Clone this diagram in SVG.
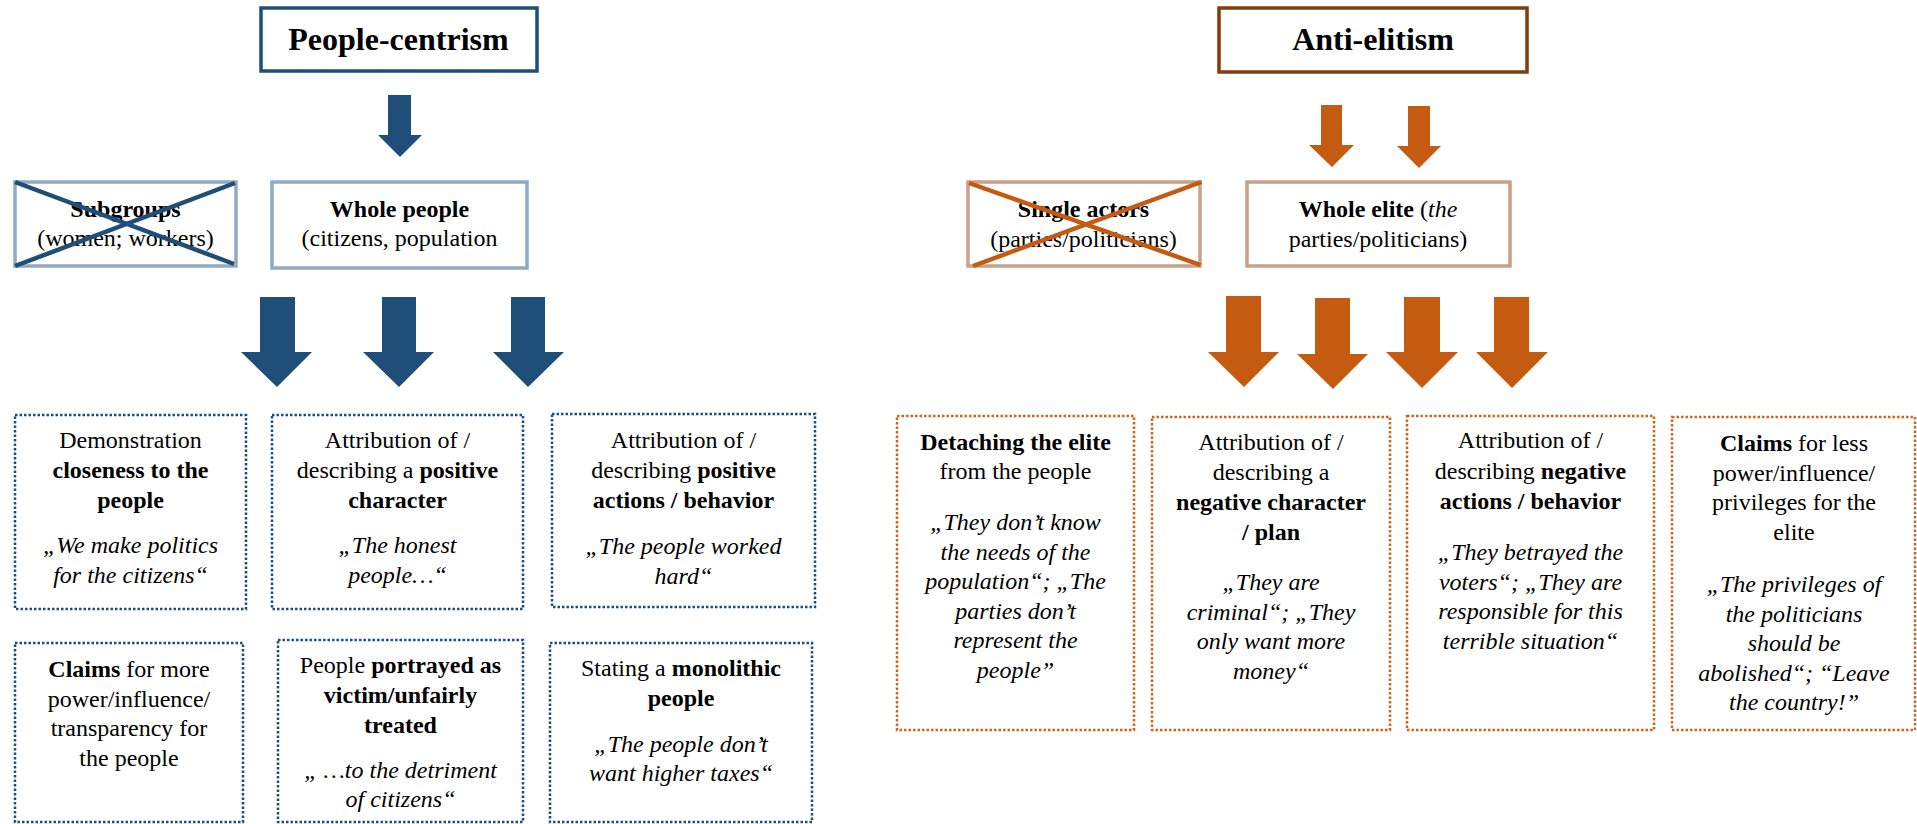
<svg xmlns="http://www.w3.org/2000/svg" width="1917" height="824" viewBox="0 0 1917 824" font-family="'Liberation Serif', 'DejaVu Serif', 'Times New Roman', serif">
<style>
text{font-family:'Liberation Serif','DejaVu Serif','Times New Roman',serif;font-size:24px;fill:#000;text-anchor:middle}
.h{font-size:32px;font-weight:bold}
.b{font-weight:bold}
.i{font-style:italic}
.bluehead{fill:#fff;stroke:#1f4e79;stroke-width:3.5}
.orhead{fill:#fff;stroke:#843c0c;stroke-width:3.5}
.bluelite{fill:#fff;stroke:#8faac2;stroke-width:3.5}
.orlite{fill:#fff;stroke:#c9a088;stroke-width:3.5}
.bluedot{fill:#fff;stroke:#1f4e79;stroke-width:2.5;stroke-dasharray:2.5 2}
.ordot{fill:#fff;stroke:#d0651a;stroke-width:2.5;stroke-dasharray:2.5 2}
.xb{stroke:#1f4e79;stroke-width:4.5}
.xo{stroke:#c55a11;stroke-width:4.5}
.ab{fill:#1f4e79}
.ao{fill:#c55a11}
</style>
<rect width="1917" height="824" fill="#fff"/>
<g id="connectors">
<polygon class="ab" points="388,95 411,95 411,135 422,135 400,157 378,135 388,135"/>
<polygon class="ab" points="260,297 295,297 295,352 312,352 277,387 241,352 260,352"/>
<polygon class="ab" points="382,297 416,297 416,352 434,352 399,387 363,352 382,352"/>
<polygon class="ab" points="511,297 545,297 545,352 564,352 528,387 493,352 511,352"/>
<polygon class="ao" points="1321,105 1342,105 1342,145 1354,145 1332,167 1309,145 1321,145"/>
<polygon class="ao" points="1408,106 1430,106 1430,146 1441,146 1419,168 1397,146 1408,146"/>
<polygon class="ao" points="1226,296 1261,296 1261,352 1279,352 1244,387 1208,352 1226,352"/>
<polygon class="ao" points="1315,298 1350,298 1350,354 1368,354 1333,389 1297,354 1315,354"/>
<polygon class="ao" points="1404,297 1440,297 1440,352 1458,352 1422,388 1386,352 1404,352"/>
<polygon class="ao" points="1494,297 1529,297 1529,352 1548,352 1512,388 1476,352 1494,352"/>
</g>
<g id="people-centrism">
<rect class="bluehead" x="261" y="8" width="276" height="63"/>
<text class="h" x="398.5" y="50">People-centrism</text>
</g>
<g id="subgroups">
<rect class="bluelite" x="15" y="182" width="221" height="84"/>
<text x="125.5" y="217" class="b">Subgroups</text>
<text x="125.5" y="246">(women; workers)</text>
<line class="xb" x1="15" y1="182" x2="234" y2="264"/>
<line class="xb" x1="235" y1="183" x2="15" y2="266"/>
</g>
<g id="whole-people">
<rect class="bluelite" x="272" y="182" width="255" height="86"/>
<text x="399.5" y="217" class="b">Whole people</text>
<text x="399.5" y="246">(citizens, population</text>
</g>
<g id="closeness">
<rect class="bluedot" x="15" y="415" width="231" height="194"/>
<text x="130.5" y="448">Demonstration</text>
<text x="130.5" y="478" class="b">closeness to the</text>
<text x="130.5" y="508" class="b">people</text>
<text x="130.5" y="553" class="i">„We make politics</text>
<text x="130.5" y="583" class="i">for the citizens“</text>
</g>
<g id="positive-character">
<rect class="bluedot" x="272" y="415" width="251" height="194"/>
<text x="397.5" y="448">Attribution of /</text>
<text x="397.5" y="478">describing a <tspan class="b">positive</tspan></text>
<text x="397.5" y="508" class="b">character</text>
<text x="397.5" y="553" class="i">„The honest</text>
<text x="397.5" y="583" class="i">people…“</text>
</g>
<g id="positive-actions">
<rect class="bluedot" x="552" y="414" width="263" height="193"/>
<text x="683.5" y="448">Attribution of /</text>
<text x="683.5" y="478">describing <tspan class="b">positive</tspan></text>
<text x="683.5" y="508" class="b">actions / behavior</text>
<text x="683.5" y="554" class="i">„The people worked</text>
<text x="683.5" y="584" class="i">hard“</text>
</g>
<g id="claims-more">
<rect class="bluedot" x="15" y="643" width="228" height="179"/>
<text x="129" y="677"><tspan class="b">Claims</tspan> for more</text>
<text x="129" y="706.5">power/influence/</text>
<text x="129" y="736">transparency for</text>
<text x="129" y="765.5">the people</text>
</g>
<g id="victim">
<rect class="bluedot" x="278" y="640" width="245" height="182"/>
<text x="400.5" y="673">People <tspan class="b">portrayed as</tspan></text>
<text x="400.5" y="703" class="b">victim/unfairly</text>
<text x="400.5" y="733" class="b">treated</text>
<text x="400.5" y="778" class="i">„ …to the detriment</text>
<text x="400.5" y="807" class="i">of citizens“</text>
</g>
<g id="monolithic">
<rect class="bluedot" x="550" y="643" width="262" height="179"/>
<text x="681" y="676">Stating a <tspan class="b">monolithic</tspan></text>
<text x="681" y="706" class="b">people</text>
<text x="681" y="751.5" class="i">„The people don’t</text>
<text x="681" y="781" class="i">want higher taxes“</text>
</g>
<g id="anti-elitism">
<rect class="orhead" x="1219" y="8" width="308" height="64"/>
<text class="h" x="1373" y="50">Anti-elitism</text>
</g>
<g id="single-actors">
<rect class="orlite" x="968" y="182" width="232" height="84"/>
<text x="1083.5" y="217" class="b">Single actors</text>
<text x="1083.5" y="247">(parties/politicians)</text>
<line class="xo" x1="969" y1="183" x2="1200.5" y2="265"/>
<line class="xo" x1="1201.5" y1="182" x2="973" y2="266"/>
</g>
<g id="whole-elite">
<rect class="orlite" x="1247" y="182" width="263" height="84"/>
<text x="1378" y="217"><tspan class="b">Whole elite</tspan> (<tspan class="i">the</tspan></text>
<text x="1378" y="247">parties/politicians)</text>
</g>
<g id="detaching">
<rect class="ordot" x="897" y="416" width="237" height="314"/>
<text x="1015.5" y="450" class="b">Detaching the elite</text>
<text x="1015.5" y="479">from the people</text>
<text x="1015.5" y="530" class="i">„They don’t know</text>
<text x="1015.5" y="559.5" class="i">the needs of the</text>
<text x="1015.5" y="589" class="i">population“; „The</text>
<text x="1015.5" y="618.5" class="i">parties don’t</text>
<text x="1015.5" y="648" class="i">represent the</text>
<text x="1015.5" y="677.5" class="i">people”</text>
</g>
<g id="negative-character">
<rect class="ordot" x="1152" y="417" width="238" height="313"/>
<text x="1271" y="450">Attribution of /</text>
<text x="1271" y="480">describing a</text>
<text x="1271" y="510" class="b">negative character</text>
<text x="1271" y="540" class="b">/ plan</text>
<text x="1271" y="590" class="i">„They are</text>
<text x="1271" y="619.5" class="i">criminal“; „They</text>
<text x="1271" y="649" class="i">only want more</text>
<text x="1271" y="678.5" class="i">money“</text>
</g>
<g id="negative-actions">
<rect class="ordot" x="1407" y="416" width="247" height="314"/>
<text x="1530.5" y="448">Attribution of /</text>
<text x="1530.5" y="478.5">describing <tspan class="b">negative</tspan></text>
<text x="1530.5" y="509" class="b">actions / behavior</text>
<text x="1530.5" y="560" class="i">„They betrayed the</text>
<text x="1530.5" y="589.5" class="i">voters“; „They are</text>
<text x="1530.5" y="619" class="i">responsible for this</text>
<text x="1530.5" y="648.5" class="i">terrible situation“</text>
</g>
<g id="claims-less">
<rect class="ordot" x="1672" y="417" width="243" height="313"/>
<text x="1794" y="451"><tspan class="b">Claims</tspan> for less</text>
<text x="1794" y="480.5">power/influence/</text>
<text x="1794" y="510">privileges for the</text>
<text x="1794" y="539.5">elite</text>
<text x="1794" y="592" class="i">„The privileges of</text>
<text x="1794" y="621.5" class="i">the politicians</text>
<text x="1794" y="651" class="i">should be</text>
<text x="1794" y="680.5" class="i">abolished“; “Leave</text>
<text x="1794" y="710" class="i">the country!”</text>
</g>
</svg>
